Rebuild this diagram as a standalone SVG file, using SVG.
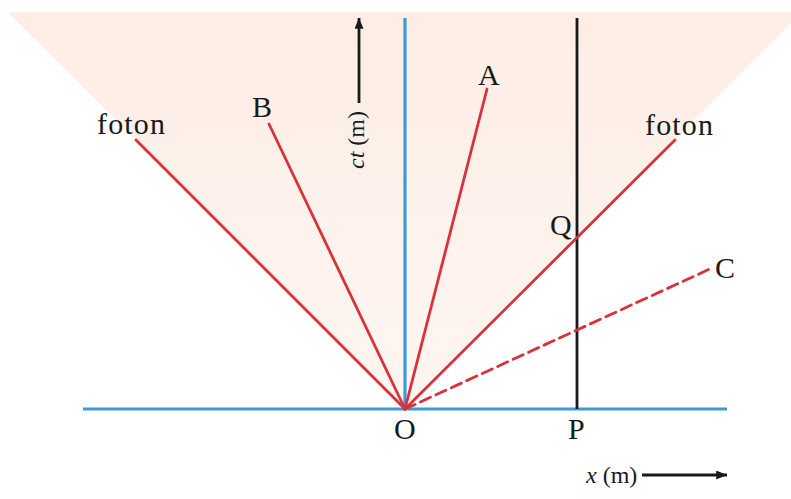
<svg xmlns="http://www.w3.org/2000/svg" width="791" height="499" viewBox="0 0 791 499">
<defs>
<linearGradient id="cone" x1="0" y1="0" x2="0" y2="1">
<stop offset="0" stop-color="#fdede5"/>
<stop offset="1" stop-color="#fef6f2"/>
</linearGradient>
<marker id="ah" viewBox="0 0 12 10" refX="12" refY="5" markerWidth="12" markerHeight="9" markerUnits="userSpaceOnUse" orient="auto">
<path d="M0,0 L12,5 L0,10 z" fill="#1a1a1a"/>
</marker>
<style>
.lbl{font-family:"Liberation Serif","Times New Roman",serif;font-size:30px;fill:#1a1a1a}
.ax{font-family:"Liberation Serif","Times New Roman",serif;font-size:24px;fill:#1a1a1a}
.it{font-style:italic}
.red{stroke:#d8323a;stroke-width:2.8;fill:none;stroke-linecap:round}
.blue{stroke:#3d9ad8;stroke-width:3.2;fill:none}
.blk{stroke:#1a1a1a;stroke-width:2.8;fill:none}
</style>
</defs>
<rect width="791" height="499" fill="#ffffff"/>
<polygon id="lightcone" points="8,12 802,12 405,409" fill="url(#cone)"/>
<g id="axes">
<line class="blue" x1="405" y1="18" x2="405" y2="409"/>
<line class="blue" x1="83" y1="409" x2="727" y2="409"/>
<line class="blk" x1="577" y1="18" x2="577" y2="409"/>
</g>
<g id="connectors">
<line class="red" x1="405" y1="409" x2="136" y2="140"/>
<line class="red" x1="405" y1="409" x2="269" y2="124"/>
<line class="red" x1="405" y1="409" x2="487" y2="89"/>
<line class="red" x1="405" y1="409" x2="675" y2="140"/>
<line class="red" x1="405" y1="409" x2="712" y2="268" stroke-dasharray="11,6" stroke-linecap="butt"/>
<line class="blk" x1="359" y1="103" x2="359" y2="18" marker-end="url(#ah)"/>
<line class="blk" x1="642" y1="475" x2="727" y2="475" marker-end="url(#ah)"/>
</g>
<g id="node-foton-left"><text class="lbl" x="97" y="134" textLength="68">foton</text></g>
<g id="node-B"><text class="lbl" x="252" y="117">B</text></g>
<g id="node-A"><text class="lbl" x="478" y="85">A</text></g>
<g id="node-foton-right"><text class="lbl" x="645" y="135" textLength="68">foton</text></g>
<g id="node-Q"><text class="lbl" x="550" y="235">Q</text></g>
<g id="node-C"><text class="lbl" x="715" y="278">C</text></g>
<g id="node-O"><text class="lbl" x="394" y="439">O</text></g>
<g id="node-P"><text class="lbl" x="568" y="439">P</text></g>
<g id="label-ct"><text class="ax" transform="translate(364,169) rotate(-90)"><tspan class="it">ct</tspan> (m)</text></g>
<g id="label-x"><text class="ax" x="586" y="483"><tspan class="it">x</tspan> (m)</text></g>
</svg>
